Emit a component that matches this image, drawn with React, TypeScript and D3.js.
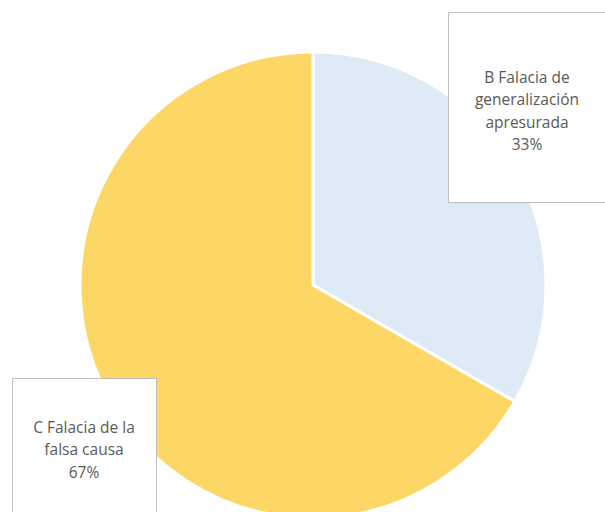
import * as d3 from "d3";
import React, { useEffect, useRef } from "react";

const categories = ["B Falacia de generalización apresurada", "C Falacia de la falsa causa"];
const values = [1, 2];
const colors = ["#DEEAF6", "#FDD766"];
// label text lines per slice (category wrapped + percent)
const labelLines = [
  ["B Falacia de", "generalización", "apresurada", "33%"],
  ["C Falacia de la", "falsa causa", "67%"],
];

const App = () => {
  const svgRef = useRef<SVGSVGElement>(null);

  useEffect(() => {
    const width = 605;
    const height = 512;
    const svg = d3.select(svgRef.current);
    svg.selectAll("*").remove();
    svg.attr("width", width).attr("height", height);

    const cx = 313;
    const cy = 285;
    const radius = 233;

    const pie = d3.pie<number>().sort(null).value(d => d);
    const arcs = pie(values);
    const arc = d3.arc<d3.PieArcDatum<number>>().innerRadius(0).outerRadius(radius);

    const g = svg.append("g").attr("transform", `translate(${cx},${cy})`);
    g.selectAll("path")
      .data(arcs)
      .enter()
      .append("path")
      .attr("d", arc)
      .attr("fill", (d, i) => colors[i])
      .attr("stroke", "white")
      .attr("stroke-width", 3)
      .attr("stroke-linejoin", "round");

    // label boxes (Excel-style callouts)
    const boxes = [
      { x: 448, y: 12, w: 162, h: 190, tx: 527, ty: 83 },
      { x: 12, y: 378, w: 144, h: 150, tx: 84, ty: 433 },
    ];

    boxes.forEach((b, i) => {
      svg.append("rect")
        .attr("x", b.x + 0.5)
        .attr("y", b.y + 0.5)
        .attr("width", b.w)
        .attr("height", b.h)
        .attr("fill", "white")
        .attr("stroke", "#BFBFBF")
        .attr("stroke-width", 1);

      const text = svg.append("text")
        .attr("x", b.tx)
        .attr("y", b.ty)
        .attr("fill", "#595959")
        .attr("text-anchor", "middle")
        .style("font-family", "'Open Sans', sans-serif")
        .style("font-size", "15.5px");

      labelLines[i].forEach((line, j) => {
        text.append("tspan")
          .attr("x", b.tx)
          .attr("dy", j === 0 ? 0 : 22.3)
          .text(line);
      });
      text.append("title").text(categories[i]);
    });
  }, []);

  return (
    <div style={{ position: "absolute", left: 0, top: 0 }}>
      <svg ref={svgRef} style={{ display: "block" }}></svg>
    </div>
  );
};

export default App;
